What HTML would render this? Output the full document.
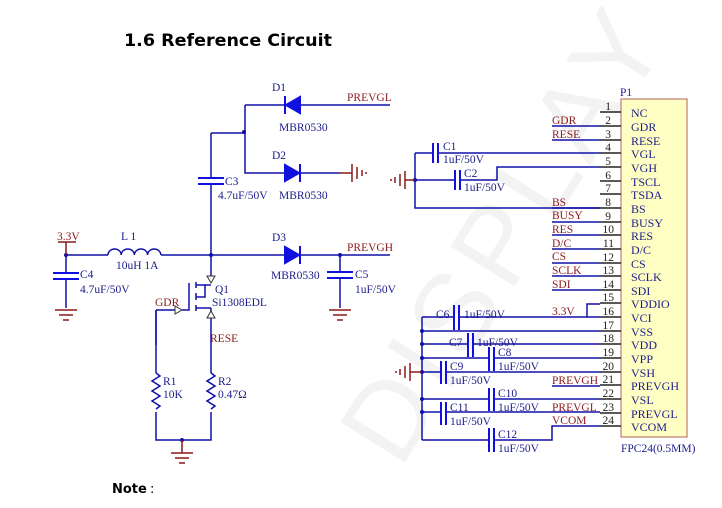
<!DOCTYPE html>
<html><head><meta charset="utf-8"><style>
html,body{margin:0;padding:0;background:#fff;}
svg{display:block;}
.t{font-family:"Liberation Serif",serif;font-size:11.5px;fill:#1c1c8a;}
.r{font-family:"Liberation Serif",serif;font-size:11.5px;fill:#8b1a1a;}
.p{font-family:"Liberation Serif",serif;font-size:12px;fill:#1c1c8a;}
.n{font-family:"Liberation Serif",serif;font-size:11.5px;fill:#222;}
</style></head><body>
<svg width="722" height="508" viewBox="0 0 722 508" xmlns="http://www.w3.org/2000/svg">
<text x="400" y="470" transform="rotate(-58 400 470)" font-family="Liberation Sans,sans-serif" font-size="110" fill="#f3f3f3" letter-spacing="8">DISPLAY</text>
<text x="124" y="46" font-family="DejaVu Sans,sans-serif" font-weight="bold" font-size="17" textLength="208" lengthAdjust="spacingAndGlyphs" fill="#000">1.6  Reference Circuit</text>
<text x="112" y="493" font-family="DejaVu Sans,sans-serif" font-weight="bold" font-size="13" fill="#000">Note</text>
<text x="150" y="493" font-family="DejaVu Sans,sans-serif" font-size="13" fill="#000">:</text>

<g stroke="#1010a8" stroke-width="1.5" fill="none">
<path d="M245 105 H285 M300 105 H390 M245 105 V173 H285 M300 173 H340 M211 133 H245 M211 133 V178 M211 184 V255"/>
<path d="M66 255 H108 M161 255 H285 M300 255 H390 M66 255 V273 M66 279 V308 M340 255 V272 M340 278 V308"/>
<path d="M108 255 a6.6 6 0 0 1 13.2 0 a6.6 6 0 0 1 13.2 0 a6.6 6 0 0 1 13.2 0 a6.6 6 0 0 1 13.2 0"/>
<path d="M211 255 V276 M211 315 V373 M156 310 H175 M156 310 V373 M156 412 V440 H211 V412"/>
<path d="M156 373 l4 3 l-8 5 l8 5 l-8 5 l8 5 l-8 5 l8 5 l-4 3"/>
<path d="M211 373 l4 3 l-8 5 l8 5 l-8 5 l8 5 l-8 5 l8 5 l-4 3"/>
<path d="M189 283 V310 H182 M196 282 V288 M196 293 V300 M196 305 V311 M196 285 H211 M196 308 H211 M196 297 H205 V285 M211 308 V315"/>
</g>
<g stroke="#1010e0" stroke-width="2">
<path d="M198 178 H224 M198 184 H224 M53 273 H79 M53 279 H79 M327 272 H353 M327 278 H353"/>
</g>
<g fill="#1010e0" stroke="#1010e0" stroke-width="2">
<path d="M300 97 V113 L286 105 Z"/><path d="M285 96 V114"/>
<path d="M285 165 V181 L299 173 Z"/><path d="M300 164 V182"/>
<path d="M285 247 V263 L299 255 Z"/><path d="M300 246 V264"/>
</g>
<g fill="#fff" stroke="#333" stroke-width="1">
<path d="M207 276 H215 L211 283 Z"/><path d="M207 318 H215 L211 311 Z"/><path d="M175 306 V314 L182 310 Z"/>
</g>
<g fill="#1010a8">
<circle cx="244" cy="132" r="2"/><circle cx="66" cy="255" r="2"/><circle cx="211" cy="255" r="2"/><circle cx="340" cy="255" r="2"/><circle cx="182" cy="440" r="2"/>
<circle cx="415" cy="180" r="2"/>
<circle cx="422" cy="331" r="2"/><circle cx="422" cy="344" r="2"/><circle cx="422" cy="358" r="2"/><circle cx="422" cy="372" r="2"/><circle cx="422" cy="399" r="2"/><circle cx="422" cy="412" r="2"/>
</g>
<g stroke="#8b1a1a" stroke-width="1.5">
<path d="M340 173 H352 M352 164 V182 M357 167 V179 M362 170 V176 M366 172 V174"/>
<path d="M415 180 H405 M405 171 V189 M400 174 V186 M395 177 V183 M391 179 V181"/>
<path d="M422 372 H410 M410 363 V381 M405 366 V378 M400 369 V375 M396 371 V373"/>
<path d="M55 310 H77 M59 315 H73 M63 320 H69"/>
<path d="M329 310 H351 M333 315 H347 M337 320 H343"/>
<path d="M182 440 V453 M171 453 H193 M175 458 H189 M179 463 H185"/>
<path d="M58 242 H76 M66 242 V255"/>
<path d="M156 310 V345" stroke="#1010a8"/>
</g>
<text class="r" x="57" y="240">3.3V</text>
<text class="t" x="121" y="240">L 1</text>
<text class="t" x="116" y="269">10uH  1A</text>
<text class="t" x="80" y="278">C4</text>
<text class="t" x="80" y="293">4.7uF/50V</text>
<text class="t" x="225" y="185">C3</text>
<text class="t" x="218" y="199">4.7uF/50V</text>
<text class="t" x="272" y="91">D1</text>
<text class="t" x="279" y="131">MBR0530</text>
<text class="t" x="272" y="159">D2</text>
<text class="t" x="279" y="199">MBR0530</text>
<text class="t" x="272" y="241">D3</text>
<text class="t" x="271" y="279">MBR0530</text>
<text class="r" x="347" y="101">PREVGL</text>
<text class="r" x="347" y="251">PREVGH</text>
<text class="t" x="355" y="278">C5</text>
<text class="t" x="355" y="293">1uF/50V</text>
<text class="t" x="215" y="293">Q1</text>
<text class="t" x="212" y="306">Si1308EDL</text>
<text class="r" x="155" y="306">GDR</text>
<text class="r" x="210" y="342">RESE</text>
<text class="t" x="163" y="385">R1</text>
<text class="t" x="163" y="398">10K</text>
<text class="t" x="218" y="385">R2</text>
<text class="t" x="218" y="398">0.47Ω</text>

<rect x="621" y="99" width="66" height="338" fill="#ffffc4" stroke="#b06060" stroke-width="1"/>
<text class="t" x="620" y="96">P1</text>
<text class="t" x="621" y="452">FPC24(0.5MM)</text>
<g stroke="#222" stroke-width="1.5">
<path d="M600 112H621 M600 126H621 M600 140H621 M600 153H621 M600 167H621 M600 181H621 M600 194H621 M600 208H621 M600 222H621 M600 235H621 M600 249H621 M600 263H621 M600 276H621 M600 290H621 M600 303H621 M600 317H621 M600 331H621 M600 344H621 M600 358H621 M600 372H621 M600 385H621 M600 399H621 M600 413H621 M600 426H621"/>
</g>
<g class="n" text-anchor="end">
<text x="611" y="110">1</text><text x="611" y="124">2</text><text x="611" y="138">3</text><text x="611" y="151">4</text><text x="611" y="165">5</text><text x="611" y="179">6</text><text x="611" y="192">7</text><text x="611" y="206">8</text><text x="611" y="220">9</text><text x="614" y="233">10</text><text x="614" y="247">11</text><text x="614" y="261">12</text><text x="614" y="274">13</text><text x="614" y="288">14</text><text x="614" y="301">15</text><text x="614" y="315">16</text><text x="614" y="329">17</text><text x="614" y="342">18</text><text x="614" y="356">19</text><text x="614" y="370">20</text><text x="614" y="383">21</text><text x="614" y="397">22</text><text x="614" y="411">23</text><text x="614" y="424">24</text>
</g>
<g class="p">
<text x="631" y="117">NC</text><text x="631" y="131">GDR</text><text x="631" y="145">RESE</text><text x="631" y="158">VGL</text><text x="631" y="172">VGH</text><text x="631" y="186">TSCL</text><text x="631" y="199">TSDA</text><text x="631" y="213">BS</text><text x="631" y="227">BUSY</text><text x="631" y="240">RES</text><text x="631" y="254">D/C</text><text x="631" y="268">CS</text><text x="631" y="281">SCLK</text><text x="631" y="295">SDI</text><text x="631" y="308">VDDIO</text><text x="631" y="322">VCI</text><text x="631" y="336">VSS</text><text x="631" y="349">VDD</text><text x="631" y="363">VPP</text><text x="631" y="377">VSH</text><text x="631" y="390">PREVGH</text><text x="631" y="404">VSL</text><text x="631" y="418">PREVGL</text><text x="631" y="431">VCOM</text>
</g>
<g stroke="#1010a8" stroke-width="1.5" fill="none">
<path d="M552 126H600 M552 140H600 M552 208H600 M552 222H600 M552 235H600 M552 249H600 M552 263H600 M552 276H600 M552 290H600"/>
<path d="M415 153V208H600 M415 153H433 M438 153H600 M415 180H455 M460 180H497V167H600"/>
<path d="M587 317V304H600 M552 317H600"/>
<path d="M422 317V440 M422 317H454 M459 317H552 M422 331H600 M422 344H468 M473 344H600 M422 358H489 M494 358H600 M422 372H441 M446 372H600 M552 386H600 M422 399H489 M494 399H600 M422 412H441 M446 412H600 M422 440H489 M494 440H552V426H600"/>
</g>
<g stroke="#1010e0" stroke-width="2">
<path d="M433 143V163 M438 143V163 M455 170V190 M460 170V190"/>
<path d="M454 305V330 M459 305V330 M468 333V357 M473 333V357 M489 347V371 M494 347V371 M441 361V384 M446 361V384 M489 388V411 M494 388V411 M441 402V425 M446 402V425 M489 428V452 M494 428V452"/>
</g>
<text class="t" x="443" y="150">C1</text><text class="t" x="443" y="163">1uF/50V</text>
<text class="t" x="464" y="177">C2</text><text class="t" x="464" y="191">1uF/50V</text>
<text class="r" x="552" y="124">GDR</text><text class="r" x="552" y="138">RESE</text><text class="r" x="552" y="206">BS</text><text class="r" x="552" y="219">BUSY</text><text class="r" x="552" y="233">RES</text><text class="r" x="552" y="247">D/C</text><text class="r" x="552" y="260">CS</text><text class="r" x="552" y="274">SCLK</text><text class="r" x="552" y="288">SDI</text>
<text class="r" x="552" y="315">3.3V</text>
<text class="r" x="552" y="384">PREVGH</text><text class="r" x="552" y="411">PREVGL</text><text class="r" x="552" y="424">VCOM</text>
<text class="t" x="436" y="318">C6</text><text class="t" x="464" y="318">1uF/50V</text>
<text class="t" x="449" y="346">C7</text><text class="t" x="477" y="346">1uF/50V</text>
<text class="t" x="498" y="356">C8</text><text class="t" x="498" y="370">1uF/50V</text>
<text class="t" x="450" y="370">C9</text><text class="t" x="450" y="384">1uF/50V</text>
<text class="t" x="498" y="397">C10</text><text class="t" x="498" y="411">1uF/50V</text>
<text class="t" x="450" y="411">C11</text><text class="t" x="450" y="425">1uF/50V</text>
<text class="t" x="498" y="438">C12</text><text class="t" x="498" y="452">1uF/50V</text>
</svg>
</body></html>
